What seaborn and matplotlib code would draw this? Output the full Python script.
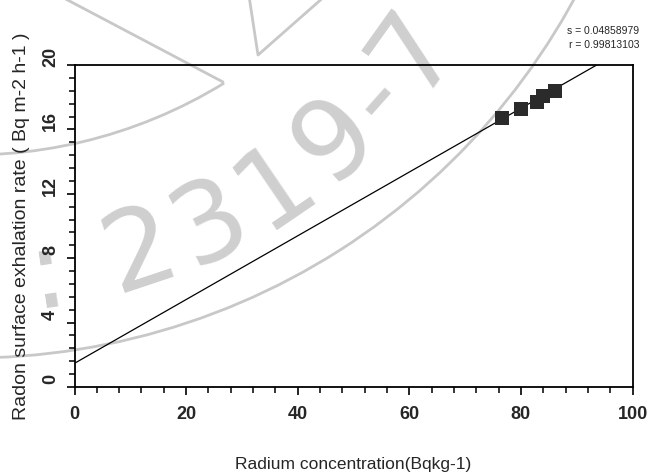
import numpy as np
import pandas as pd
import matplotlib
matplotlib.use("Agg")
import matplotlib.pyplot as plt
from matplotlib.ticker import MultipleLocator
from matplotlib.transforms import ScaledTranslation, IdentityTransform
from matplotlib.patches import Arc
from matplotlib.lines import Line2D
from matplotlib import font_manager, ft2font
import seaborn as sns

# Measured samples
radium = [76.7, 80.0, 82.8, 84.0, 86.1]          # Bq kg-1
exhalation = [16.7, 17.25, 17.7, 18.1, 18.4]     # Bq m-2 h-1

# Fitted line parameters
fit_intercept = 1.47
fit_slope = 0.198
fit_x_range = [0, 100]

stat_s = "0.04858979"
stat_r = "0.99813103"

x_ticks = [0, 20, 40, 60, 80, 100]
y_ticks = [0, 4, 8, 12, 16, 20]

stamp_text = ": 2319-7"

sns.set_theme(style="white")
plt.rcParams["font.family"] = ["Liberation Sans", "DejaVu Sans"]

W, H, DPI = 6.49, 4.75, 100
fig = plt.figure(figsize=(W, H), dpi=DPI)
ax = fig.add_axes([0.1148, 0.1853, 0.8598, 0.6779])
ax.set_facecolor("none")

# ---- faint circular journal stamp behind the plot (pixel coordinates) ----
ring_col = "#c8c8c8"
cx, cy = -30, H * DPI + 330
ident = IdentityTransform()
fig.add_artist(Arc((cx, cy), 2 * 688, 2 * 688, theta1=-95, theta2=-20,
                   transform=ident, color=ring_col, lw=2, zorder=-5))
fig.add_artist(Arc((cx, cy), 2 * 485, 2 * 485, theta1=-95, theta2=-58.4,
                   transform=ident, color=ring_col, lw=2, zorder=-5))
fig.add_artist(Line2D([60, 223], [479, 393], transform=ident,
                      color=ring_col, lw=2, zorder=-5))
fig.add_artist(Line2D([249, 258, 325], [479, 420, 479], transform=ident,
                      color=ring_col, lw=2, zorder=-5))

# lettering laid out along its own arc
tcx, tcy = -34, H * DPI + 269
r_mid = 540.0
fsize = 80
fpath = font_manager.findfont(font_manager.FontProperties(family="DejaVu Sans"))
ft = ft2font.FT2Font(fpath)
ft.set_size(fsize, DPI)
adv = np.array([ft.load_char(ord(ch)).linearHoriAdvance / 65536.0
                for ch in stamp_text])
centers = np.cumsum(adv) - adv / 2
centers -= centers[stamp_text.index("2")]
cap_half = 0.73 * fsize * DPI / 72 / 2
r_base = r_mid + cap_half
phi0 = np.deg2rad(-71.5)
for ch, s in zip(stamp_text, centers):
    if ch == " ":
        continue
    phi = phi0 + 1.05 * s / r_mid
    px = tcx + r_base * np.cos(phi)
    py = tcy + r_base * np.sin(phi)
    fig.text(px / (W * DPI), py / (H * DPI), ch, fontsize=fsize,
             family="DejaVu Sans", color="#cfcfcf",
             rotation=np.rad2deg(phi) + 90, rotation_mode="anchor",
             ha="center", va="baseline", zorder=-4)

# ---- data ----
df_pts = pd.DataFrame({"radium": radium, "exhalation": exhalation})
fx = np.linspace(fit_x_range[0], fit_x_range[1], 200)
df_fit = pd.DataFrame({"radium": fx, "exhalation": fit_intercept + fit_slope * fx})

sns.lineplot(data=df_fit, x="radium", y="exhalation", ax=ax, color="black",
             linewidth=0.9, zorder=2)
sns.scatterplot(data=df_pts, x="radium", y="exhalation", ax=ax, marker="s",
                s=115, color="#2b2b2b", edgecolor="#2b2b2b", linewidth=0,
                zorder=3)

ax.set_xlim(0, 100)
ax.set_ylim(0, 20)
ax.set_xticks(x_ticks)
ax.set_yticks(y_ticks)
ax.xaxis.set_minor_locator(MultipleLocator(4))
ax.yaxis.set_minor_locator(MultipleLocator(0.8))
ax.tick_params(which="major", direction="out", length=6, width=1.2,
               color="black", bottom=True, left=True, labelsize=13)
ax.tick_params(which="minor", direction="out", length=4, width=1.1,
               color="black", bottom=True, left=True)
ax.tick_params(axis="x", pad=8)
ax.tick_params(axis="y", pad=5)
for lab in ax.get_xticklabels():
    lab.set_fontweight("bold")
shift_up = ScaledTranslation(0, 8 / 100, fig.dpi_scale_trans)
for tick in ax.yaxis.get_major_ticks():
    lab = tick.label1
    lab.set_fontweight("bold")
    lab.set_rotation(90)
    lab.set_va("center")
    lab.set_transform(lab.get_transform() + shift_up)

for sp in ax.spines.values():
    sp.set_visible(True)
    sp.set_color("black")
    sp.set_linewidth(1.3)

ax.set_xlabel("Radium concentration(Bqkg-1)", fontsize=12.5, labelpad=24)
ax.set_ylabel("Radon surface exhalation rate ( Bq m-2 h-1 )", fontsize=14,
              labelpad=9)

fig.text(0.985, 0.935, "s = " + stat_s, ha="right", va="center", fontsize=7.5)
fig.text(0.985, 0.905, "r = " + stat_r, ha="right", va="center", fontsize=7.5)

fig.savefig("out.png", dpi=DPI, facecolor="white")
